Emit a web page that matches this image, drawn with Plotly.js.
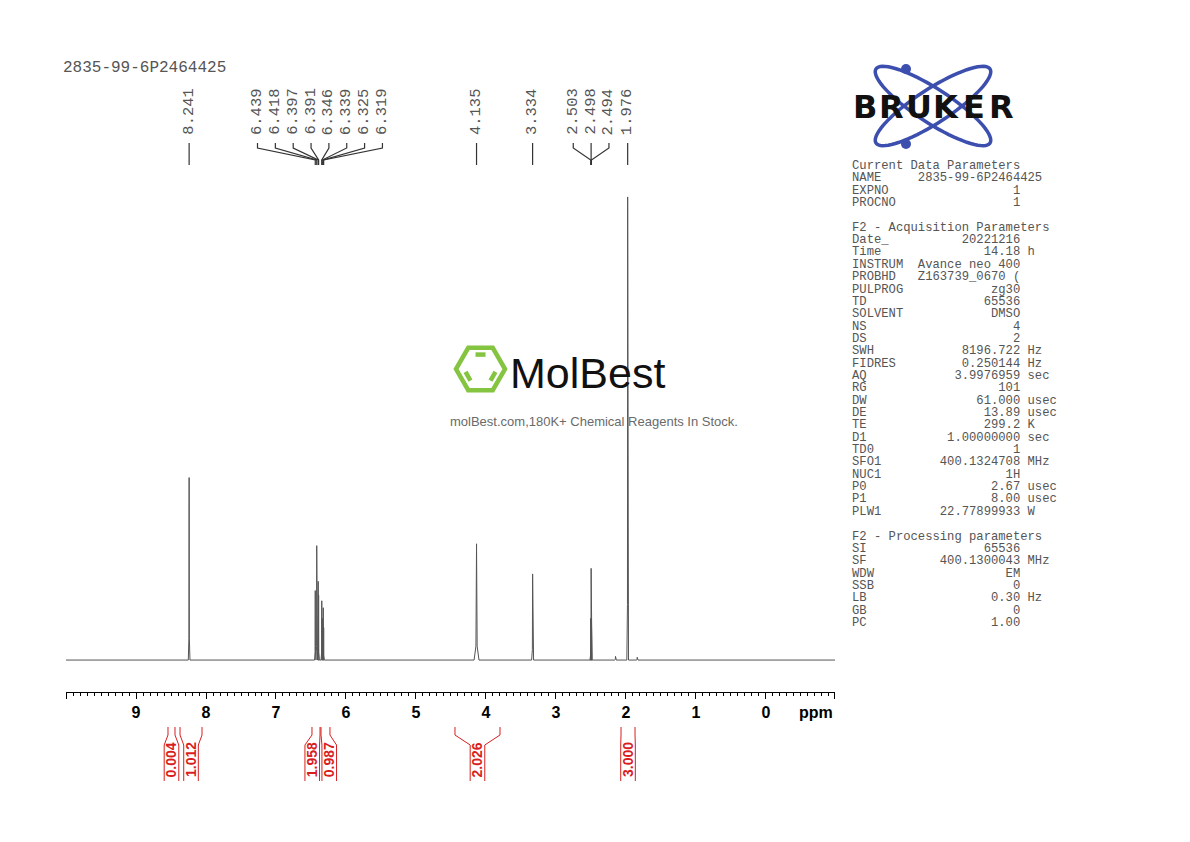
<!DOCTYPE html>
<html>
<head>
<meta charset="utf-8">
<script src="https://cdn.plot.ly/plotly-3.0.1.min.js"></script>
<style>html,body{margin:0;padding:0;background:#fff;}#chart{width:1190px;height:842px;}</style>
</head>
<body>
<div id="chart"></div>
<script>
// ---------- data ----------
const peakPpm    = [8.241, 6.439, 6.418, 6.397, 6.391, 6.346, 6.339, 6.325, 6.319, 4.135, 3.334, 2.503, 2.498, 2.494, 2.150, 1.976, 1.840];
const peakHeight = [39.4, 15.0, 24.7, 17.0, 14.0, 12.8, 9.0, 11.3, 7.0, 25.1, 18.6, 9.0, 19.8, 9.0, 0.8, 100.0, 0.6];
const peakWidth  = [0.012, 0.010, 0.010, 0.010, 0.010, 0.010, 0.010, 0.010, 0.010, 0.035, 0.014, 0.010, 0.012, 0.010, 0.012, 0.012, 0.012];

const labelGroups = [[8.241], [6.439, 6.418, 6.397, 6.391, 6.346, 6.339, 6.325, 6.319], [4.135], [3.334], [2.503, 2.498, 2.494], [1.976]];

const intFrom  = [8.543, 8.371, 6.486, 6.357, 4.443, 2.071];
const intTo    = [8.443, 8.057, 6.371, 6.229, 3.800, 1.871];
const intValue = ['0.004', '1.012', '1.958', '0.987', '2.026', '3.000'];

const tickVals = [10, 9, 8, 7, 6, 5, 4, 3, 2, 1, 0, -0.98];
const tickText = ['', '9', '8', '7', '6', '5', '4', '3', '2', '1', '0', ''];

const sampleName = '2835-99-6P2464425';
const paramLines = [
  ['Current Data Parameters'],
  ['NAME', '2835-99-6P2464425', '', 'left'],
  ['EXPNO', '1'],
  ['PROCNO', '1'],
  null,
  ['F2 - Acquisition Parameters'],
  ['Date_', '20221216'],
  ['Time', '14.18', 'h'],
  ['INSTRUM', 'Avance neo 400'],
  ['PROBHD', 'Z163739_0670 ('],
  ['PULPROG', 'zg30'],
  ['TD', '65536'],
  ['SOLVENT', 'DMSO'],
  ['NS', '4'],
  ['DS', '2'],
  ['SWH', '8196.722', 'Hz'],
  ['FIDRES', '0.250144', 'Hz'],
  ['AQ', '3.9976959', 'sec'],
  ['RG', '101'],
  ['DW', '61.000', 'usec'],
  ['DE', '13.89', 'usec'],
  ['TE', '299.2', 'K'],
  ['D1', '1.00000000', 'sec'],
  ['TD0', '1'],
  ['SFO1', '400.1324708', 'MHz'],
  ['NUC1', '1H'],
  ['P0', '2.67', 'usec'],
  ['P1', '8.00', 'usec'],
  ['PLW1', '22.77899933', 'W'],
  null,
  ['F2 - Processing parameters'],
  ['SI', '65536'],
  ['SF', '400.1300043', 'MHz'],
  ['WDW', 'EM'],
  ['SSB', '0'],
  ['LB', '0.30', 'Hz'],
  ['GB', '0'],
  ['PC', '1.00']
];

// ---------- layout geometry ----------
const W = 1190, H = 842;
const M = {l: 66, r: 355, t: 190, b: 150};
const PW = W - M.l - M.r, PH = H - M.t - M.b;
const X_RANGE = [10, -0.986];
const xP = px => (px - M.l) / PW;
const yP = py => (H - M.b - py) / PH;

// ---------- spectrum trace ----------
const order = peakPpm.map((p, i) => i).sort((a, b) => peakPpm[b] - peakPpm[a]);
const sx = [X_RANGE[0]], sy = [0];
order.forEach(i => {
  const p = peakPpm[i], h = peakHeight[i], w = peakWidth[i];
  sx.push(p + w, p + w * 0.25, p, p - w * 0.25, p - w);
  sy.push(0, h * 0.12, h, h * 0.12, 0);
});
sx.push(X_RANGE[1]); sy.push(0);

const traces = [{
  x: sx, y: sy, type: 'scatter', mode: 'lines',
  line: {color: '#555', width: 1}, hoverinfo: 'skip', showlegend: false
}];

const shapes = [];
const annotations = [];
const NB = '\u00a0';

// ---------- peak labels & leader lines ----------
const LBL_SP = 0.255;
labelGroups.forEach(g => {
  const n = g.length;
  const c = g.reduce((s, v) => s + v, 0) / n;
  g.forEach((p, i) => {
    const lx = n === 1 ? p : c + ((n - 1) / 2 - i) * LBL_SP;
    annotations.push({
      x: lx, xref: 'x', y: yP(111.5), yref: 'paper', text: p.toFixed(3), textangle: -90,
      showarrow: false, xanchor: 'center', yanchor: 'middle',
      font: {family: 'Liberation Mono, monospace', size: 15.5, color: '#555'}
    });
    let path;
    if (n === 1) path = `M ${p} ${yP(143)} L ${p} ${yP(165)}`;
    else path = `M ${lx} ${yP(143)} L ${lx} ${yP(148)} L ${p} ${yP(160)} L ${p} ${yP(165)}`;
    shapes.push({type: 'path', xref: 'x', yref: 'paper', path: path, line: {color: '#333', width: 1.2}});
  });
});

// ---------- integrals ----------
const intMid = intFrom.map((f, i) => (f + intTo[i]) / 2);
const intLbl = intMid.slice();
const MIN_SEP = 17 / 70;
for (let i = 1; i < intLbl.length; i++) {
  if (intLbl[i - 1] - intLbl[i] < MIN_SEP) {
    const m = (intLbl[i - 1] + intLbl[i]) / 2;
    intLbl[i - 1] = m + MIN_SEP / 2;
    intLbl[i] = m - MIN_SEP / 2;
  }
}
const HALF = 7.3 / 70;
const red = '#d81e1e';
intValue.forEach((v, i) => {
  const lx = intLbl[i];
  const L = lx + HALF, R = lx - HALF;
  shapes.push({type: 'path', xref: 'x', yref: 'paper', line: {color: red, width: 1},
    path: `M ${intFrom[i]} ${yP(727)} L ${intFrom[i]} ${yP(735)} L ${L} ${yP(745)} L ${L} ${yP(781)}`});
  shapes.push({type: 'path', xref: 'x', yref: 'paper', line: {color: red, width: 1},
    path: `M ${intTo[i]} ${yP(727)} L ${intTo[i]} ${yP(735)} L ${R} ${yP(745)} L ${R} ${yP(781)}`});
  annotations.push({
    x: lx, xref: 'x', y: yP(760), yref: 'paper', text: v, textangle: -90, showarrow: false,
    xanchor: 'center', yanchor: 'middle',
    font: {family: 'Liberation Sans, Arial, sans-serif', size: 14, color: red, weight: 'bold'}
  });
});

// ---------- header / ppm ----------
annotations.push({x: xP(61), y: yP(68), xref: 'paper', yref: 'paper', text: sampleName, showarrow: false,
  xanchor: 'left', yanchor: 'middle', font: {family: 'Liberation Mono, monospace', size: 16, color: '#555'}});
annotations.push({x: xP(816), y: yP(712), xref: 'paper', yref: 'paper', text: 'ppm', showarrow: false,
  xanchor: 'center', yanchor: 'middle', font: {family: 'Liberation Sans, Arial, sans-serif', size: 16, color: '#000', weight: 'bold'}});

// ---------- parameter block ----------
paramLines.forEach((ln, i) => {
  if (!ln) return;
  let s;
  if (ln.length === 1) s = ln[0];
  else if (ln[3] === 'left') s = ln[0].padEnd(9) + ln[1];
  else {
    s = ln[0] + ' '.repeat(Math.max(1, 23 - ln[0].length - ln[1].length)) + ln[1];
    if (ln[2]) s += ' ' + ln[2];
  }
  annotations.push({x: xP(849.5), y: yP(166 + i * 12.35), xref: 'paper', yref: 'paper',
    text: s.replace(/ /g, NB), showarrow: false, xanchor: 'left', yanchor: 'middle',
    font: {family: 'Liberation Mono, monospace', size: 12.2, color: '#555'}});
});

// ---------- Bruker logo ----------
function ellipsePath(cx, cy, a, b, th) {
  const t = th * Math.PI / 180, pts = [];
  for (let k = 0; k <= 72; k++) {
    const u = k / 72 * 2 * Math.PI;
    const ex = a * Math.cos(u), ey = b * Math.sin(u);
    const px = cx + ex * Math.cos(t) - ey * Math.sin(t);
    const py = cy + ex * Math.sin(t) + ey * Math.cos(t);
    pts.push((k ? 'L ' : 'M ') + xP(px).toFixed(5) + ' ' + yP(py).toFixed(5));
  }
  return pts.join(' ') + ' Z';
}
const blue = '#3d4fae';
shapes.push({type: 'path', xref: 'paper', yref: 'paper', path: ellipsePath(933, 106, 68, 17, 33), line: {color: blue, width: 3.5}});
shapes.push({type: 'path', xref: 'paper', yref: 'paper', path: ellipsePath(933, 106, 68, 17, -33), line: {color: blue, width: 3.5}});
[[906, 69], [906, 144]].forEach(d => {
  shapes.push({type: 'circle', xref: 'paper', yref: 'paper', x0: xP(d[0] - 5), x1: xP(d[0] + 5), y0: yP(d[1] + 5), y1: yP(d[1] - 5),
    fillcolor: blue, line: {color: blue, width: 0}});
});
const brLetters = ['B', 'R', 'U', 'K', 'E', 'R'];
brLetters.forEach((ch, i) => {
  annotations.push({x: xP(864.5 + i * 27.3), y: yP(107.5), xref: 'paper', yref: 'paper', text: ch, showarrow: false,
    xanchor: 'center', yanchor: 'middle', font: {family: 'DejaVu Sans, sans-serif', size: 32, color: '#111', weight: 'bold'}});
});

// ---------- MolBest watermark ----------
const green = '#84c441';
(function () {
  const cx = 480.5, cy = 369, R = 24.5;
  const v = [];
  for (let k = 0; k < 6; k++) { const a = k * Math.PI / 3; v.push([cx + R * Math.cos(a), cy + R * Math.sin(a)]); }
  shapes.push({type: 'path', xref: 'paper', yref: 'paper', line: {color: green, width: 4.5},
    path: v.map((p, k) => (k ? 'L ' : 'M ') + xP(p[0]) + ' ' + yP(p[1])).join(' ') + ' Z'});
  [[4, 5], [2, 3], [0, 1]].forEach(e => {
    const s = 0.68, sh = 0.2;
    const a = v[e[0]], b = v[e[1]];
    const ia = [cx + (a[0] - cx) * s, cy + (a[1] - cy) * s], ib = [cx + (b[0] - cx) * s, cy + (b[1] - cy) * s];
    const p1 = [ia[0] + (ib[0] - ia[0]) * sh, ia[1] + (ib[1] - ia[1]) * sh];
    const p2 = [ib[0] + (ia[0] - ib[0]) * sh, ib[1] + (ia[1] - ib[1]) * sh];
    shapes.push({type: 'line', xref: 'paper', yref: 'paper', x0: xP(p1[0]), y0: yP(p1[1]), x1: xP(p2[0]), y1: yP(p2[1]),
      line: {color: green, width: 4.5}});
  });
})();
annotations.push({x: xP(587), y: yP(373), xref: 'paper', yref: 'paper', text: 'MolBest', showarrow: false,
  xanchor: 'center', yanchor: 'middle', font: {family: 'Liberation Sans, sans-serif', size: 43, color: '#111'}});
annotations.push({x: xP(594), y: yP(421), xref: 'paper', yref: 'paper', text: 'molBest.com,180K+ Chemical Reagents In Stock.', showarrow: false,
  xanchor: 'center', yanchor: 'middle', font: {family: 'Liberation Sans, Arial, sans-serif', size: 13, color: '#6a6a6a'}});

// ---------- layout ----------
const layout = {
  width: W, height: H, margin: M,
  paper_bgcolor: '#fff', plot_bgcolor: '#fff', showlegend: false,
  xaxis: {
    range: X_RANGE, autorange: false, showgrid: false, zeroline: false,
    showline: true, linecolor: '#000', linewidth: 1,
    tickmode: 'array', tickvals: tickVals, ticktext: tickText,
    ticks: 'outside', ticklen: 6, tickwidth: 1, tickcolor: '#000',
    ticklabelstandoff: 0,
    tickfont: {family: 'Liberation Sans, Arial, sans-serif', size: 16, color: '#000', weight: 'bold'},
    minor: {dtick: 0.1, tick0: 0, ticks: 'outside', ticklen: 3, tickwidth: 1, tickcolor: '#000', showgrid: false}
  },
  yaxis: {visible: false, range: [-6.9, 101.5], autorange: false, fixedrange: true},
  shapes: shapes, annotations: annotations
};

Plotly.newPlot('chart', traces, layout, {staticPlot: true, displayModeBar: false});
</script>
</body>
</html>
